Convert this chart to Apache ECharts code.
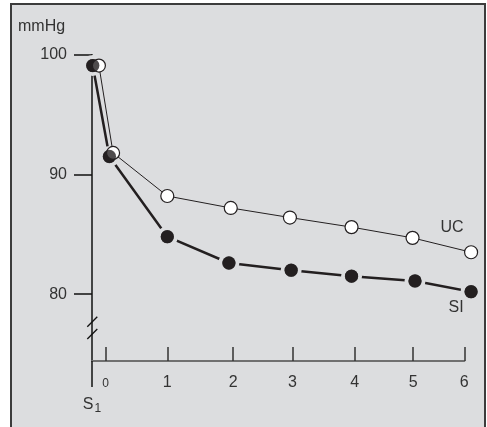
<!DOCTYPE html>
<html>
<head>
<meta charset="utf-8">
<script src="https://cdn.jsdelivr.net/npm/echarts@6/dist/echarts.min.js"></script>
<style>
  html, body { margin: 0; padding: 0; background: #ffffff; overflow: hidden; }
  #panel { position: absolute; left: 10px; top: 3px; width: 476px; height: 440px;
           box-sizing: border-box; border: 2px solid #3c3c3c; background: #dcdddf; }
  #chart { position: absolute; left: 0; top: 0; width: 487px; height: 427px; }
</style>
</head>
<body>
<div id="panel"></div>
<div id="chart"></div>
<script>
// ---- data ----
const siX = [-0.21, 0.06, 1.0, 2.0, 3.01, 3.99, 5.02, 5.93];
const siY = [99.1, 91.5, 84.8, 82.6, 82.0, 81.5, 81.1, 80.2];
const ucX = [-0.11, 0.12, 1.0, 2.03, 2.99, 3.99, 4.98, 5.93];
const ucY = [99.1, 91.8, 88.2, 87.2, 86.4, 85.6, 84.7, 83.5];
const xTickValues = [0, 1, 2.07, 3.03, 4.04, 4.99, 5.82];
const xTickLabels = ['0', '1', '2', '3', '4', '5', '6'];
const yTickValues = [80, 90, 100];
const yTickLabels = ['80', '90', '100'];
const seriesNames = ['SI', 'UC'];
const unitLabel = 'mmHg';

const X_MIN = -0.222, X_MAX = 5.82, Y_MIN = 74.41, Y_MAX = 100;
const INK = '#231f20', TXT = '#333333', BG = '#dcdddf';
const FONT = '"Liberation Sans", Arial, sans-serif';

const siData = siX.map((x, i) => [x, siY[i]]);
const ucData = ucX.map((x, i) => [x, ucY[i]]);

function lastLabel(data, text, offset) {
  return data.map((d, i) => i === data.length - 1
    ? { value: d, label: { show: true, formatter: text, position: 'inside', offset: offset,
        color: TXT, fontSize: 16, fontFamily: FONT } }
    : d);
}

const chart = echarts.init(document.getElementById('chart'), null, { renderer: 'canvas' });
chart.setOption({
  animation: false,
  backgroundColor: 'transparent',
  grid: { left: 92, right: 22.7, top: 54.8, bottom: 66, containLabel: false },
  xAxis: [{
    type: 'value', min: X_MIN, max: X_MAX, position: 'bottom',
    splitLine: { show: false },
    axisLine: { show: true, onZero: false, lineStyle: { color: '#707070', width: 2 } },
    axisTick: { show: true, inside: true, length: 14, customValues: xTickValues,
      lineStyle: { color: '#333', width: 1.5 } },
    axisLabel: { show: true, customValues: xTickValues, margin: 14,
      formatter: function (v) {
        const i = xTickValues.indexOf(v);
        const t = i >= 0 ? xTickLabels[i] : '';
        return i === 0 ? '{small|' + t + '}' : '{n|' + t + '}';
      },
      rich: {
        small: { fontSize: 12, color: TXT, fontFamily: FONT, padding: [3, 0, 0, 0] },
        n: { fontSize: 16, color: TXT, fontFamily: FONT }
      }
    }
  }, {
    type: 'value', min: X_MIN, max: X_MAX, position: 'bottom',
    splitLine: { show: false },
    axisLine: { show: false, onZero: false },
    axisTick: { show: true, inside: false, length: 26, customValues: [X_MIN],
      lineStyle: { color: '#111', width: 1.5 } },
    axisLabel: { show: true, customValues: [X_MIN], margin: 34, showMinLabel: true,
      formatter: function () { return '{s|S}{sub|1}'; },
      rich: {
        s: { fontSize: 16, color: TXT, fontFamily: FONT, padding: [0, 0, 0, 0] },
        sub: { fontSize: 12, color: TXT, fontFamily: FONT, padding: [8, 0, 0, 1] }
      }
    }
  }],
  yAxis: {
    type: 'value', min: Y_MIN, max: Y_MAX,
    splitLine: { show: false },
    axisLine: { show: true, onZero: false, lineStyle: { color: '#111', width: 1.5 } },
    axisTick: { show: true, inside: false, length: 18, customValues: yTickValues,
      lineStyle: { color: '#111', width: 1.5 } },
    axisLabel: { show: true, customValues: yTickValues, margin: 25,
      color: TXT, fontSize: 16, fontFamily: FONT,
      formatter: function (v) {
        const i = yTickValues.indexOf(v);
        return i >= 0 ? yTickLabels[i] : '';
      }
    }
  },
  graphic: [
    { type: 'text', left: 18, top: 19, style: { text: unitLabel, fill: TXT, fontSize: 16, fontFamily: FONT } },
    { type: 'line', shape: { x1: 87.3, y1: 326.7, x2: 97.3, y2: 316.7 }, style: { stroke: '#111', lineWidth: 1.3 }, z: 10 },
    { type: 'line', shape: { x1: 87.3, y1: 339, x2: 97.3, y2: 329 }, style: { stroke: '#111', lineWidth: 1.3 }, z: 10 }
  ],
  series: [
    { // SI line with background-coloured halos around markers
      name: seriesNames[0], type: 'line', data: lastLabel(siData, seriesNames[0], [-15, 16]),
      clip: false, z: 2, showSymbol: true, symbol: 'circle', symbolSize: 17,
      lineStyle: { color: INK, width: 2.5 },
      itemStyle: { color: INK, borderColor: BG, borderWidth: 4 },
      emphasis: { disabled: true }
    },
    { // UC line with open markers
      name: seriesNames[1], type: 'line', data: lastLabel(ucData, seriesNames[1], [-19, -25]),
      clip: false, z: 3, showSymbol: true, symbol: 'circle', symbolSize: 13,
      lineStyle: { color: INK, width: 1 },
      itemStyle: { color: '#ffffff', borderColor: INK, borderWidth: 1.2 },
      emphasis: { disabled: true }
    },
    { // SI filled markers on top
      name: seriesNames[0] + ' markers', type: 'scatter', data: siData,
      clip: false, z: 4, symbol: 'circle', symbolSize: 13.3,
      itemStyle: { color: INK },
      emphasis: { disabled: true }
    }
  ]
});
</script>
</body>
</html>
